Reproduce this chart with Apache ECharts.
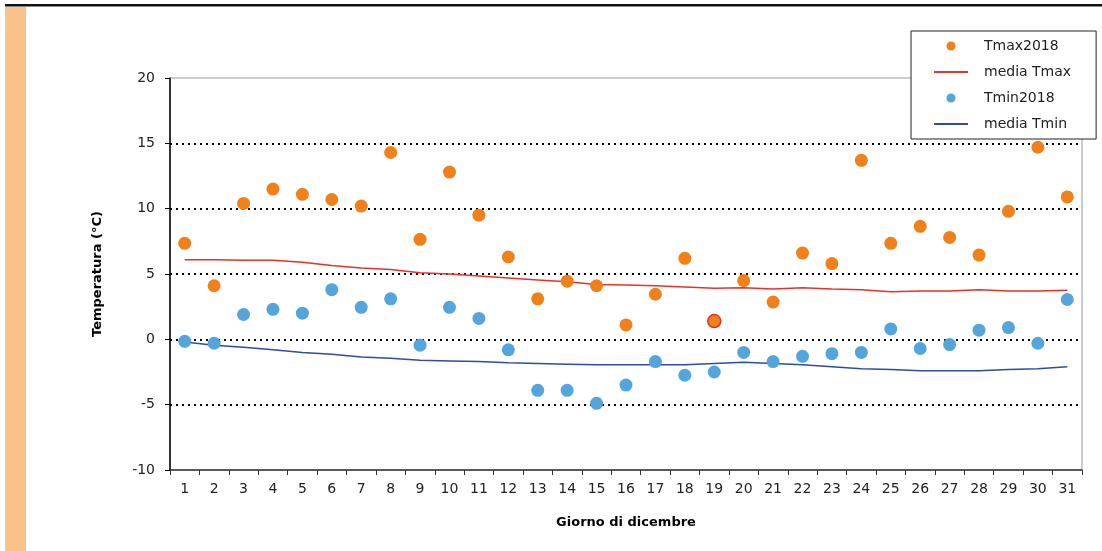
<!DOCTYPE html>
<html>
<head>
<meta charset="utf-8">
<script src="https://cdn.jsdelivr.net/npm/echarts@6/dist/echarts.min.js"></script>
<style>html,body{margin:0;padding:0;background:#fff;}#c{width:1102px;height:551px;}</style>
</head>
<body>
<div id="c"></div>
<script>
const days = ['1','2','3','4','5','6','7','8','9','10','11','12','13','14','15','16','17','18','19','20','21','22','23','24','25','26','27','28','29','30','31'];
const tmax2018 = [7.35,4.1,10.4,11.5,11.1,10.7,10.2,14.3,7.65,12.8,9.5,6.3,3.1,4.45,4.1,1.1,3.45,6.2,1.4,4.5,2.85,6.6,5.8,13.7,7.35,8.65,7.8,6.45,9.8,14.7,10.9];
const mediaTmax = [6.1,6.1,6.05,6.05,5.9,5.65,5.45,5.35,5.1,5.0,4.85,4.7,4.55,4.4,4.2,4.15,4.1,4.0,3.9,3.95,3.85,3.95,3.85,3.8,3.65,3.7,3.7,3.8,3.7,3.7,3.75];
const tmin2018 = [-0.15,-0.3,1.9,2.3,2.0,3.8,2.45,3.1,-0.45,2.45,1.6,-0.8,-3.9,-3.9,-4.9,-3.5,-1.7,-2.75,-2.5,-1.0,-1.7,-1.3,-1.1,-1.0,0.8,-0.7,-0.4,0.7,0.9,-0.3,3.05];
const mediaTmin = [-0.2,-0.45,-0.6,-0.8,-1.0,-1.15,-1.35,-1.45,-1.6,-1.65,-1.7,-1.8,-1.85,-1.9,-1.95,-1.95,-1.95,-1.95,-1.85,-1.75,-1.85,-1.95,-2.1,-2.25,-2.3,-2.4,-2.4,-2.4,-2.3,-2.25,-2.1];
const highlightDay = 18; // index of day 19 (red-outlined point)

const FONT = 'DejaVu Sans';
const chart = echarts.init(document.getElementById('c'));
const tmaxData = tmax2018.map((v, i) => i === highlightDay
  ? { value: v, itemStyle: { borderColor: '#E8312A', borderWidth: 1.5 } }
  : v);

chart.setOption({
  animation: false,
  backgroundColor: '#fff',
  graphic: [
    { type: 'rect', shape: { x: 5, y: 4, width: 1097, height: 2.5 }, style: { fill: '#111' }, z: 10 },
    { type: 'rect', shape: { x: 5, y: 7, width: 21, height: 544 }, style: { fill: '#F8C28A' }, z: 10 }
  ],
  grid: { left: 170, right: 20, top: 78, bottom: 81, show: true, borderColor: '#999', borderWidth: 1 },
  legend: {
    orient: 'vertical',
    left: 911, top: 31,
    padding: [7, 25, 7, 22],
    itemGap: 10,
    itemWidth: 34, itemHeight: 9,
    backgroundColor: '#fff',
    borderColor: '#222', borderWidth: 1,
    textStyle: { fontFamily: FONT, fontSize: 14, color: '#222', lineHeight: 16, padding: [0, 0, 0, 11] },
    data: [
      { name: 'Tmax2018', icon: 'circle' },
      { name: 'media Tmax', itemStyle: { opacity: 0 } },
      { name: 'Tmin2018', icon: 'circle' },
      { name: 'media Tmin', itemStyle: { opacity: 0 } }
    ]
  },
  xAxis: {
    type: 'category',
    data: days,
    boundaryGap: true,
    name: 'Giorno di dicembre',
    nameLocation: 'middle',
    nameGap: 46,
    nameTextStyle: { fontFamily: FONT, fontSize: 13, fontWeight: 'bold', color: '#000' },
    axisLine: { onZero: false, lineStyle: { color: '#333', width: 1.5 } },
    axisTick: { show: true, length: 5, lineStyle: { color: '#333' } },
    axisLabel: { fontFamily: FONT, fontSize: 14, color: '#222', margin: 12, interval: 0 },
    splitLine: { show: false }
  },
  yAxis: {
    type: 'value',
    min: -10, max: 20, interval: 5,
    name: 'Temperatura (°C)',
    nameLocation: 'middle',
    nameGap: 66,
    nameRotate: 90,
    nameTextStyle: { fontFamily: FONT, fontSize: 13, fontWeight: 'bold', color: '#000' },
    axisLine: { show: true, lineStyle: { color: '#000', width: 1.5 } },
    axisTick: { show: true, length: 5, lineStyle: { color: '#000' } },
    axisLabel: { fontFamily: FONT, fontSize: 14, color: '#222', margin: 15 },
    splitLine: { show: true, lineStyle: { type: [2, 4], width: 2.2,
      color: ['rgba(0,0,0,0)', '#000', '#000', '#000', '#000', '#000', 'rgba(0,0,0,0)'] } }
  },
  series: [
    { name: 'Tmax2018', type: 'scatter', data: tmaxData, symbolSize: 13,
      itemStyle: { color: '#F0811A', opacity: 1 }, z: 5 },
    { name: 'media Tmax', type: 'line', data: mediaTmax, showSymbol: false, symbol: 'none',
      lineStyle: { color: '#E8312A', width: 1.5 }, itemStyle: { color: '#E8312A' }, z: 3 },
    { name: 'Tmin2018', type: 'scatter', data: tmin2018, symbolSize: 13,
      itemStyle: { color: '#55A5DD', opacity: 1 }, z: 5 },
    { name: 'media Tmin', type: 'line', data: mediaTmin, showSymbol: false, symbol: 'none',
      lineStyle: { color: '#2F4DA0', width: 1.5 }, itemStyle: { color: '#2F4DA0' }, z: 3 }
  ]
});
</script>
</body>
</html>
